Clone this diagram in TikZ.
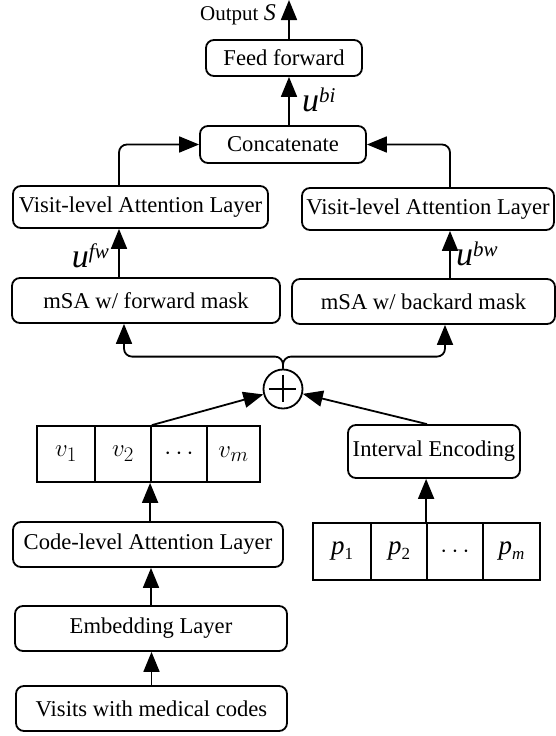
\documentclass[tikz,border=0pt]{standalone}
\usepackage{fontspec}
\setmainfont{Liberation Serif}
\usetikzlibrary{arrows.meta}
\begin{document}
\begin{tikzpicture}[x=1pt,y=-1pt,
  box/.style={draw, rounded corners=8pt, line width=1.8pt, inner sep=0pt, font=\fontsize{22.6}{26}\selectfont},
  cell/.style={draw, line width=1.8pt, inner sep=0pt},
  vfont/.style={font=\fontsize{31}{31}\selectfont},
  pfont/.style={font=\fontsize{27}{27}\selectfont},
  arr/.style={line width=1.8pt, -{Triangle[length=20pt,width=16pt]}},
  lbl/.style={inner sep=0pt, font=\fontsize{34}{34}\selectfont}]
\useasboundingbox (0,0) rectangle (556,736);

% boxes
\node[box, minimum width=156pt, minimum height=36pt] (ff) at (284,58) {Feed forward};
\node[box, minimum width=166pt, minimum height=37pt] (cc) at (283,144.5) {Concatenate};
\node[box, minimum width=255pt, minimum height=42pt] (visL) at (140.5,207) {Visit-level Attention Layer};
\node[box, minimum width=252pt, minimum height=42pt] (visR) at (428,209) {Visit-level Attention Layer};
\node[box, minimum width=268pt, minimum height=45pt] (msaL) at (146,300.5) {mSA w/ forward mask};
\node[box, minimum width=263pt, minimum height=45pt] (msaR) at (423.5,301.5) {mSA w/ backard mask};
\node[draw, circle, line width=1.8pt, minimum size=39pt, inner sep=0pt] (plus) at (283,389) {};
\draw[line width=1.3pt] (plus.north) ++(0,6) -- ++(0,27);
\draw[line width=1.3pt] (plus.west) ++(6,0) -- ++(27,0);
\node[box, minimum width=172pt, minimum height=53pt] (ie) at (434,451.5) {Interval Encoding};
\node[box, minimum width=270pt, minimum height=45pt] (code) at (148,544.5) {Code-level Attention Layer};
\node[box, minimum width=272pt, minimum height=45pt] (emb) at (151,628.5) {Embedding Layer};
\node[box, minimum width=271pt, minimum height=45pt] (vis) at (151.5,708.5) {Visits with medical codes};

% v array
\node[cell, vfont, minimum width=58pt, minimum height=56pt] (v1) at (66,454) {$v_1$};
\node[cell, vfont, minimum width=56pt, minimum height=56pt] (v2) at (123,454) {$v_2$};
\node[cell, vfont, minimum width=56pt, minimum height=56pt] (v3) at (179,454) {$\cdots$};
\node[cell, vfont, minimum width=53pt, minimum height=56pt] (v4) at (233.5,454) {$v_m$};

% p array
\node[cell, pfont, minimum width=58pt, minimum height=57pt] (p1) at (342,551.5) {\textit{p}\raisebox{-5pt}{\fontsize{17}{17}\selectfont 1}};
\node[cell, pfont, minimum width=56pt, minimum height=57pt] (p2) at (399,551.5) {\textit{p}\raisebox{-5pt}{\fontsize{17}{17}\selectfont 2}};
\node[cell, pfont, minimum width=56pt, minimum height=57pt] (p3) at (455,551.5) {$\cdots$};
\node[cell, pfont, minimum width=57pt, minimum height=57pt] (p4) at (511.5,551.5) {\textit{p}\raisebox{-5pt}{\fontsize{17}{17}\selectfont\textit{m}}};

% column coordinates
\coordinate (outtop) at (289,0);
\coordinate (cl) at (119,0);
\coordinate (cr) at (450,0);
\coordinate (bl) at (124,0);
\coordinate (br) at (445,0);

% connectors
\draw[arr] (ff.north -| outtop) -- (outtop);
\draw[arr] (cc.north -| outtop) -- (ff.south -| outtop);
\draw[arr, rounded corners=8pt] (visL.north -| cl) |- (cc.west);
\draw[arr, rounded corners=8pt] (visR.north -| cr) |- (cc.east);
\draw[arr] (msaL.north -| cl) -- (visL.south -| cl);
\draw[arr] (msaR.north -| cr) -- (visR.south -| cr);
\draw[arr, rounded corners=8pt] (plus.north) -- ++(0,-12) -| (msaL.south -| bl);
\draw[arr, rounded corners=8pt] (plus.north) -- ++(0,-12) -| (msaR.south -| br);
\draw[arr] (v2.north east) -- (plus);
\draw[arr] ([xshift=-7pt]ie.north) -- (plus);
\draw[arr] (p3.north west) -- (ie.south -| p3.north west);
\draw[arr] (code.north -| v3.south west) -- (v3.south west);
\draw[arr] (emb.north) -- (code.south -| emb.north);
\draw[arr] (vis.north) -- (emb.south -| vis.north);

% labels
\node[inner sep=0pt, anchor=base east, font=\fontsize{21}{21}\selectfont] (outl) at (278,20) {Output \fontsize{24}{24}\selectfont\textit{S}\kern2pt};
\node[lbl, anchor=base west] (ubi) at (302,111) {\textit{u}\raisebox{9pt}{\fontsize{21}{21}\selectfont\textit{bi}}};
\node[lbl, anchor=base east] (ufw) at (109,267) {\textit{u}\raisebox{9pt}{\fontsize{21}{21}\selectfont\textit{fw}}};
\node[lbl, anchor=base west] (ubw) at (456,265) {\textit{u}\raisebox{9pt}{\fontsize{21}{21}\selectfont\textit{bw}}};
\end{tikzpicture}
\end{document}
